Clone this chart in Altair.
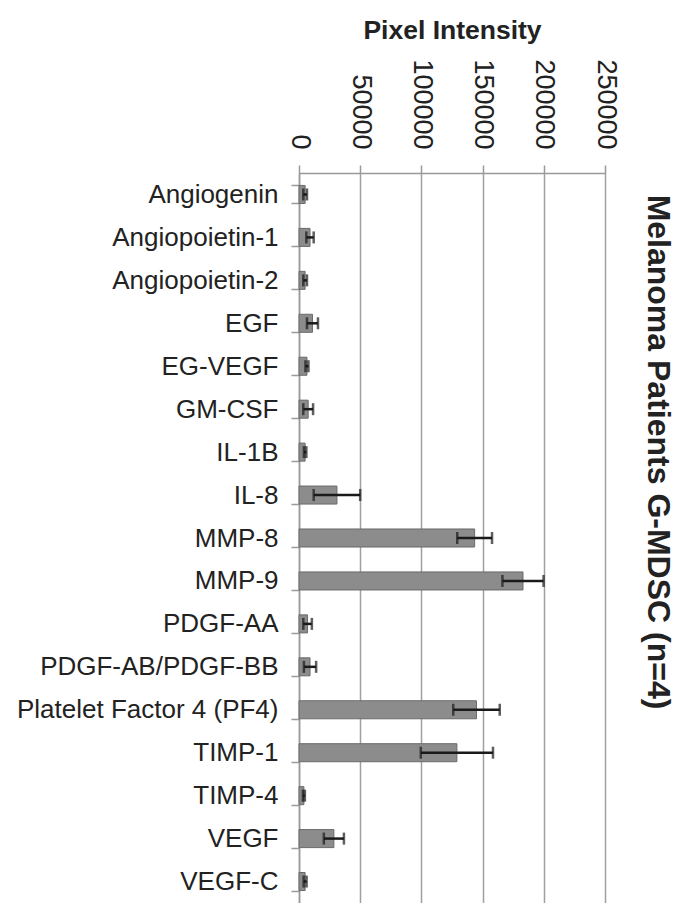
import altair as alt
import pandas as pd

categories = ["Angiogenin", "Angiopoietin-1", "Angiopoietin-2", "EGF", "EG-VEGF", "GM-CSF",
              "IL-1B", "IL-8", "MMP-8", "MMP-9", "PDGF-AA", "PDGF-AB/PDGF-BB",
              "Platelet Factor 4 (PF4)", "TIMP-1", "TIMP-4", "VEGF", "VEGF-C"]
means = [5000, 9000, 5000, 11000, 6500, 7500, 5000, 31000, 143500, 183000, 7000, 9000,
         145000, 129000, 4000, 28500, 5000]
errors = [1500, 3000, 1500, 4500, 1200, 4000, 1000, 19000, 14200, 16800, 3500, 5000,
          19000, 29500, 800, 8200, 1200]
x_ticks = [0, 50000, 100000, 150000, 200000, 250000]

df = pd.DataFrame({"cat": categories, "mean": means, "err": errors})
df["lo"] = df["mean"] - df["err"]
df["hi"] = df["mean"] + df["err"]

FONT = "Liberation Sans"

y_enc = alt.Y("cat:N", sort=categories, title=None,
              scale=alt.Scale(paddingInner=0.58, paddingOuter=0.29),
              axis=alt.Axis(labelFont=FONT, labelFontSize=26, labelColor="#222222",
                            labelPadding=13, labelLimit=400, tickBand="extent", tickSize=8,
                            tickColor="#999999", tickWidth=1.5, domainColor="#999999",
                            domainWidth=1.5, grid=False))

x_scale = alt.Scale(domain=[0, 250000], nice=False)
x_axis = alt.Axis(orient="top", values=x_ticks, labelAngle=90, labelAlign="right",
                  labelBaseline="middle", labelFont=FONT, labelFontSize=27,
                  labelColor="#222222", labelPadding=16, tickSize=8, tickColor="#999999",
                  tickWidth=1.5, domainColor="#999999", domainWidth=1.5,
                  grid=True, gridColor="#a0a0a0", gridWidth=1.5,
                  title="Pixel Intensity", titleFont=FONT, titleFontSize=26.5,
                  titleFontWeight="bold", titleColor="#222222", titlePadding=14,
                  format="d")

base = alt.Chart(df)

bars = base.mark_bar(color="#8c8c8c", stroke="#6a6a6a", strokeWidth=1).encode(
    x=alt.X("mean:Q", scale=x_scale, axis=x_axis),
    y=y_enc,
)

rules = base.mark_rule(color="#1a1a1a", strokeWidth=2.5).encode(
    x="lo:Q", x2="hi:Q", y=alt.Y("cat:N", sort=categories)
)
cap_lo = base.mark_tick(color="#1a1a1a", thickness=2.5, size=12).encode(
    x="lo:Q", y=alt.Y("cat:N", sort=categories)
)
cap_hi = base.mark_tick(color="#1a1a1a", thickness=2.5, size=12).encode(
    x="hi:Q", y=alt.Y("cat:N", sort=categories)
)

chart = alt.layer(bars, rules, cap_lo, cap_hi).properties(
    width=306, height=730,
    autosize=alt.AutoSizeParams(type="none"),
    padding={"left": 299, "top": 173, "right": 72, "bottom": 0},
    title=alt.TitleParams("Melanoma Patients G-MDSC (n=4)", orient="right",
                          anchor="middle", font=FONT, fontSize=32, fontWeight="bold",
                          color="#222222", offset=22, dx=-86),
).configure_view(stroke=None).configure(background="white")

chart.save("out.html", embed_options={"renderer": "svg", "actions": False})
